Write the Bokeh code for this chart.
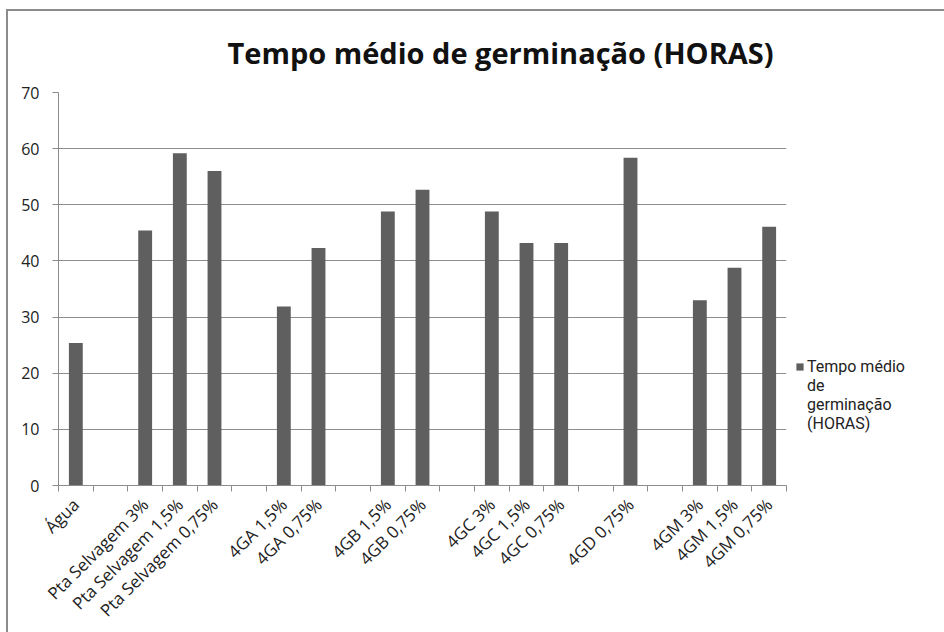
import math
from bokeh.plotting import figure
from bokeh.models import FixedTicker, Legend, LegendItem, ColumnDataSource, Title
from bokeh.embed import file_html
from bokeh.resources import INLINE

# ---- data ----
categories = ["Água", "", "Pta Selvagem 3%", "Pta Selvagem 1,5%", "Pta Selvagem 0,75%", "",
              "4GA 1,5%", "4GA 0,75%", "", "4GB 1,5%", "4GB 0,75%", "",
              "4GC 3%", "4GC 1,5%", "4GC 0,75%", "", "4GD 0,75%", "",
              "4GM 3%", "4GM 1,5%", "4GM 0,75%"]
values = [25.4, None, 45.4, 59.2, 56.0, None,
          31.9, 42.3, None, 48.8, 52.7, None,
          48.8, 43.2, 43.2, None, 58.4, None,
          33.0, 38.8, 46.1]
y_ticks = [0, 10, 20, 30, 40, 50, 60, 70]
legend_lines = ["Tempo médio", "de", "germinação", "(HORAS)"]
title_text = "Tempo médio de germinação (HORAS)"

FONT = "Open Sans"
BAR = "#5f5f5f"
GRID = "#8c8c8c"

n = len(categories)
xs = [i + 0.5 for i, v in enumerate(values) if v is not None]
tops = [v for v in values if v is not None]
src = ColumnDataSource(dict(x=xs, top=tops))

p = figure(frame_width=728, frame_height=393,
           x_range=(0, n), y_range=(0, 70),
           output_backend="svg", toolbar_location=None,
           min_border_left=50, min_border_top=81, min_border_bottom=10, min_border_right=0)
p.styles = {"border-left": "2px solid #8c8c8c", "border-top": "2px solid #8c8c8c",
            "margin-left": "6px", "margin-top": "9px"}

r = p.vbar(x="x", top="top", width=0.4, bottom=0, source=src,
           fill_color=BAR, line_color=None)
dummy = p.vbar(x=[], top=[], width=0.4, fill_alpha=0, line_alpha=0)

# title
t = Title(text=title_text, align="left", offset=169, standoff=38,
          vertical_align="top",
          text_font=FONT, text_font_size="29px", text_font_style="bold",
          text_line_height=0.9, text_color="#111111")
p.add_layout(t, "above")

# x axis
label_ticks = [i + 0.5 for i, c in enumerate(categories) if c]
p.xaxis.ticker = FixedTicker(ticks=label_ticks, minor_ticks=list(range(n + 1)))
p.xaxis.major_label_overrides = {i + 0.5: c for i, c in enumerate(categories) if c}
p.xaxis.major_label_orientation = math.pi / 4
p.xaxis.major_tick_line_color = None
p.xaxis.minor_tick_line_color = GRID
p.xaxis.minor_tick_out = 6
p.xaxis.minor_tick_in = 0
p.xaxis.axis_line_color = GRID
p.xaxis.major_label_text_font = FONT
p.xaxis.major_label_text_font_size = "17px"
p.xaxis.major_label_text_color = "#222222"
p.xaxis.major_label_standoff = 10

# y axis
p.yaxis.ticker = FixedTicker(ticks=y_ticks)
p.yaxis.major_tick_out = 6
p.yaxis.major_tick_in = 0
p.yaxis.major_tick_line_color = GRID
p.yaxis.minor_tick_line_color = None
p.yaxis.axis_line_color = GRID
p.yaxis.major_label_text_font = FONT
p.yaxis.major_label_text_font_size = "16px"
p.yaxis.major_label_text_color = "#222222"
p.yaxis.major_label_standoff = 13

p.xgrid.grid_line_color = None
p.ygrid.grid_line_color = GRID
p.ygrid.ticker = FixedTicker(ticks=y_ticks)
p.outline_line_color = None

items = [LegendItem(label=legend_lines[0], renderers=[r])]
items += [LegendItem(label=s, renderers=[dummy]) for s in legend_lines[1:]]
legend = Legend(items=items,
                location=(9, 52), border_line_color=None, background_fill_alpha=0,
                label_text_font="Roboto", label_text_font_size="16px", label_text_color="#222222",
                glyph_width=9, glyph_height=9, label_standoff=3, padding=0, margin=0,
                spacing=0, label_height=18)
p.add_layout(legend, "right")

open("out.html", "w").write(file_html(p, INLINE))
